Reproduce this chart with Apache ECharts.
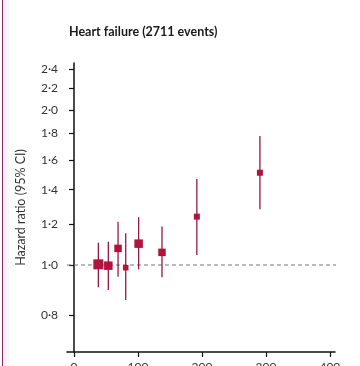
<!DOCTYPE html>
<html><head><meta charset="utf-8">
<script src="https://cdn.jsdelivr.net/npm/echarts@6/dist/echarts.min.js"></script>
<style>html,body{margin:0;padding:0;background:#fff}#c{width:360px;height:366px}</style>
</head><body><div id="c"></div>
<script>
// Data
const exposure = [38, 53.6, 68.8, 80.8, 101, 137.5, 192, 290.6];
const hazardRatio = [1.003, 0.997, 1.077, 0.988, 1.10, 1.058, 1.241, 1.510];
const ciLower = [0.905, 0.894, 0.949, 0.855, 0.981, 0.947, 1.046, 1.283];
const ciUpper = [1.105, 1.110, 1.213, 1.152, 1.238, 1.187, 1.468, 1.779];
const yTicks = [0.8, 1.0, 1.2, 1.4, 1.6, 1.8, 2.0, 2.2, 2.4];
const xTicks = [0, 100, 200, 300, 400];
const refLine = [[-11, 1], [421, 1]];
const titleText = 'Heart failure (2711 events)';
const yName = 'Hazard ratio (95% CI)';

// Style
const squareSizes = [10, 8.5, 7.5, 5.5, 8.5, 7.5, 6, 6];
const FONT = 'Lato, "Open Sans", sans-serif';

const chart = echarts.init(document.getElementById('c'), null, {renderer: 'canvas'});
const ciData = exposure.map((x, i) => [x, ciLower[i], ciUpper[i]]);
const ptData = exposure.map((x, i) => ({value: [x, hazardRatio[i]], symbolSize: squareSizes[i]}));

chart.setOption({
  animation: false,
  title: {text: titleText, left: 64, top: 20, textStyle: {fontFamily: FONT, fontSize: 12.5, fontWeight: 'bold', color: '#1a1a1a'}},
  graphic: [
    {type: 'rect', shape: {x: 3, y: 0, width: 6, height: 366}, style: {fill: '#fcf3f8'}, silent: true},
    {type: 'line', shape: {x1: 2.5, y1: 0, x2: 2.5, y2: 366}, style: {stroke: '#8a2b68', lineWidth: 1}, silent: true}
  ],
  grid: {left: 67, right: 25, top: 63, bottom: 14, containLabel: false, outerBoundsMode: 'none'},
  xAxis: {
    type: 'value', min: -11, max: 408,
    axisLine: {show: true, lineStyle: {color: '#111', width: 1.5}},
    axisTick: {show: true, length: 5, lineStyle: {color: '#111', width: 1.2}, customValues: xTicks},
    axisLabel: {customValues: xTicks, fontFamily: FONT, fontSize: 12, color: '#333', margin: 9},
    splitLine: {show: false}
  },
  yAxis: {
    type: 'log', logBase: 10, min: 0.678, max: 2.465,
    name: yName, nameLocation: 'middle', nameGap: 40, nameRotate: 90,
    nameTextStyle: {fontFamily: FONT, fontSize: 12.5, color: '#333'},
    axisLine: {show: true, lineStyle: {color: '#111', width: 1.5}},
    axisTick: {show: true, length: 5, lineStyle: {color: '#111', width: 1.2}, customValues: yTicks},
    axisLabel: {customValues: yTicks, fontFamily: FONT, fontSize: 12, color: '#333', margin: 9,
      formatter: v => (Math.round(v * 10) / 10).toFixed(1).replace('.', '·')},
    splitLine: {show: false}
  },
  series: [
    {
      type: 'line', data: refLine, clip: false, symbol: 'none', silent: true,
      lineStyle: {type: [4, 3], color: '#777', width: 1}, z: 1
    },
    {
      type: 'custom',
      data: ciData,
      encode: {x: 0, y: [1, 2]},
      renderItem: (params, api) => {
        const lo = api.coord([api.value(0), api.value(1)]);
        const hi = api.coord([api.value(0), api.value(2)]);
        return {type: 'line', shape: {x1: lo[0], y1: lo[1], x2: hi[0], y2: hi[1]}, style: {stroke: '#951a45', lineWidth: 1.3}};
      },
      z: 2
    },
    {
      type: 'scatter', symbol: 'rect', data: ptData,
      itemStyle: {color: '#b3123f', opacity: 1}, z: 3
    }
  ]
});
</script></body></html>
